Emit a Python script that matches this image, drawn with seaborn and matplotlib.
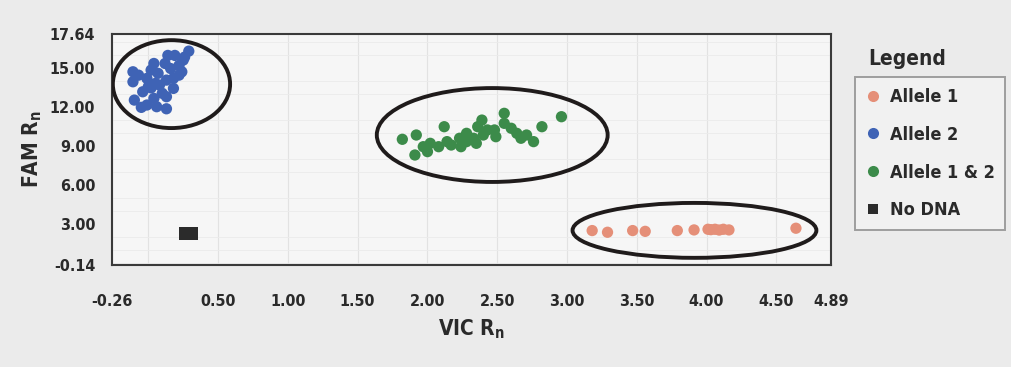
import numpy as np
import pandas as pd
import matplotlib
matplotlib.use('Agg')
import matplotlib.pyplot as plt
import seaborn as sns
from matplotlib.patches import Ellipse
from matplotlib.lines import Line2D
from matplotlib import font_manager

# allelic discrimination values (VIC Rn, FAM Rn)
allele1_vic = [3.18, 3.29, 3.47, 3.56, 3.79, 3.91, 4.01, 4.03, 4.06, 4.09, 4.12, 4.16, 4.64]
allele1_fam = [2.51, 2.38, 2.51, 2.45, 2.51, 2.56, 2.61, 2.58, 2.61, 2.55, 2.61, 2.56, 2.69]

allele2_vic = [-0.11, -0.11, -0.10, -0.05, -0.01, 0.00, 0.02, 0.04, 0.07, 0.08,
               0.10, 0.12, 0.14, 0.16, 0.18, 0.19, 0.22, 0.24, 0.26, 0.29,
               0.13, -0.01, 0.04, 0.06, -0.04, 0.13, 0.18, 0.22, 0.25, -0.07,
               0.05, 0.13, 0.02]
allele2_fam = [14.74, 13.97, 12.56, 12.00, 14.23, 13.59, 14.87, 15.38, 14.62, 13.72,
               13.08, 15.38, 16.00, 14.99, 14.23, 16.00, 15.23, 14.74, 15.87, 16.33,
               11.89, 12.18, 12.69, 12.05, 13.20, 12.82, 13.46, 14.48, 15.64, 14.48,
               13.84, 14.10, 13.50]

het_vic = [1.82, 1.92, 1.91, 1.97, 2.02, 2.00, 2.08, 2.12, 2.14, 2.17,
           2.23, 2.24, 2.28, 2.33, 2.35, 2.36, 2.39, 2.40, 2.43, 2.48,
           2.49, 2.55, 2.55, 2.60, 2.64, 2.67, 2.71, 2.76, 2.82, 2.96, 2.28]
het_fam = [9.54, 9.87, 8.33, 8.97, 9.23, 8.59, 8.97, 10.51, 9.36, 9.10,
           9.62, 8.97, 10.00, 9.62, 9.23, 10.51, 11.02, 9.87, 10.26, 10.26,
           9.74, 11.54, 10.77, 10.39, 10.00, 9.62, 9.87, 9.36, 10.51, 11.28, 9.36]

nodna_vic = [0.27, 0.31]
nodna_fam = [2.29, 2.29]

calls = ['Allele 1', 'Allele 2', 'Allele 1 & 2', 'No DNA']
colors = ['#e58f78', '#3f63b5', '#3c8b4a', '#2b2b2b']

xticks = [-0.26, 0.0, 0.5, 1.0, 1.5, 2.0, 2.5, 3.0, 3.5, 4.0, 4.5, 4.89]
xlabels = ['-0.26', '', '0.50', '1.00', '1.50', '2.00', '2.50', '3.00', '3.50', '4.00', '4.50', '4.89']
yticks = [-0.14, 3.0, 6.0, 9.0, 12.0, 15.0, 17.64]
ylabels = ['-0.14', '3.00', '6.00', '9.00', '12.00', '15.00', '17.64']

# hand drawn rings around the clusters (centre x, centre y, width, height)
rings = [(0.166, 13.79, 0.84, 6.77),
         (2.464, 9.87, 1.654, 7.23),
         (3.913, 2.525, 1.747, 4.23)]

df = pd.concat([
    pd.DataFrame({'VIC': allele1_vic, 'FAM': allele1_fam, 'call': calls[0]}),
    pd.DataFrame({'VIC': allele2_vic, 'FAM': allele2_fam, 'call': calls[1]}),
    pd.DataFrame({'VIC': het_vic, 'FAM': het_fam, 'call': calls[2]}),
])
dna = pd.DataFrame({'VIC': nodna_vic, 'FAM': nodna_fam, 'call': calls[3]})

sns.set_style('white')
names = set(f.name for f in font_manager.fontManager.ttflist)
narrow = [n for n in ['Liberation Sans Narrow', 'DejaVu Sans Condensed'] if n in names]
font = narrow + ['DejaVu Sans']
plt.rcParams['font.family'] = font
plt.rcParams['font.stretch'] = 'condensed'
plt.rcParams['font.weight'] = 'bold'
plt.rcParams['mathtext.fontset'] = 'custom'
plt.rcParams['mathtext.rm'] = font[0] + ':bold'

fig = plt.figure(figsize=(10.11, 3.67), dpi=100, facecolor='#ebebeb')
ax = fig.add_axes([0.1108, 0.278, 0.711, 0.629])
ax.set_facecolor('#f6f6f6')

pal = dict(zip(calls, colors))
sns.scatterplot(data=df, x='VIC', y='FAM', hue='call', palette=pal, s=66,
                edgecolor='none', legend=False, ax=ax, zorder=3)
sns.scatterplot(data=dna, x='VIC', y='FAM', color=colors[3], marker='s', s=95,
                edgecolor='none', legend=False, ax=ax, zorder=3)

for cx, cy, w, h in rings:
    ax.add_patch(Ellipse((cx, cy), w, h, fill=False, edgecolor='#1f1b1b', lw=2.8, zorder=4))

ax.set_xlim(-0.26, 4.89)
ax.set_ylim(-0.14, 17.64)
ax.set_xticks(xticks)
ax.set_xticklabels(xlabels)
ax.set_yticks(yticks)
ax.set_yticklabels(ylabels)
ax.set_yticks(np.arange(0, 18, 1.0), minor=True)
ax.tick_params(axis='both', which='both', direction='out', length=7, width=1.4,
               color='#333333', labelsize=11.5, labelcolor='#2a2a2a')
ax.tick_params(axis='x', pad=14)
ax.tick_params(axis='y', pad=5)
ax.grid(True, axis='x', color='#e2e2e2', lw=0.8)
ax.grid(True, axis='y', which='minor', color='#ebebeb', lw=0.6)
for s in ax.spines.values():
    s.set_color('#3a3a3a')
    s.set_linewidth(1.5)

ax.set_xlabel('VIC R$_\\mathrm{n}$', fontsize=15, fontweight='bold', color='#2a2a2a', labelpad=6)
ax.set_ylabel('FAM R$_\\mathrm{n}$', fontsize=15, fontweight='bold', color='#2a2a2a', labelpad=4)

handles = [Line2D([], [], ls='none', marker='o', markersize=8, color=c, markeredgewidth=0)
           for c in colors[:3]]
handles.append(Line2D([], [], ls='none', marker='s', markersize=7, color=colors[3], markeredgewidth=0))
leg = fig.legend(handles, calls, loc='upper left', bbox_to_anchor=(0.846, 0.79),
                 borderaxespad=0, fontsize=13, frameon=True, fancybox=False, borderpad=0.6,
                 handlelength=0.8, handletextpad=0.5, labelspacing=1.1)
leg.get_frame().set_edgecolor('#8a8a8a')
leg.get_frame().set_linewidth(1.4)
leg.get_frame().set_facecolor('#f3f3f3')
for t in leg.get_texts():
    t.set_color('#2a2a2a')

fig.text(0.8586, 0.839, 'Legend', fontsize=15, fontweight='bold', color='#2a2a2a',
         ha='left', va='center')

fig.savefig('out.png', dpi=100, facecolor=fig.get_facecolor())
